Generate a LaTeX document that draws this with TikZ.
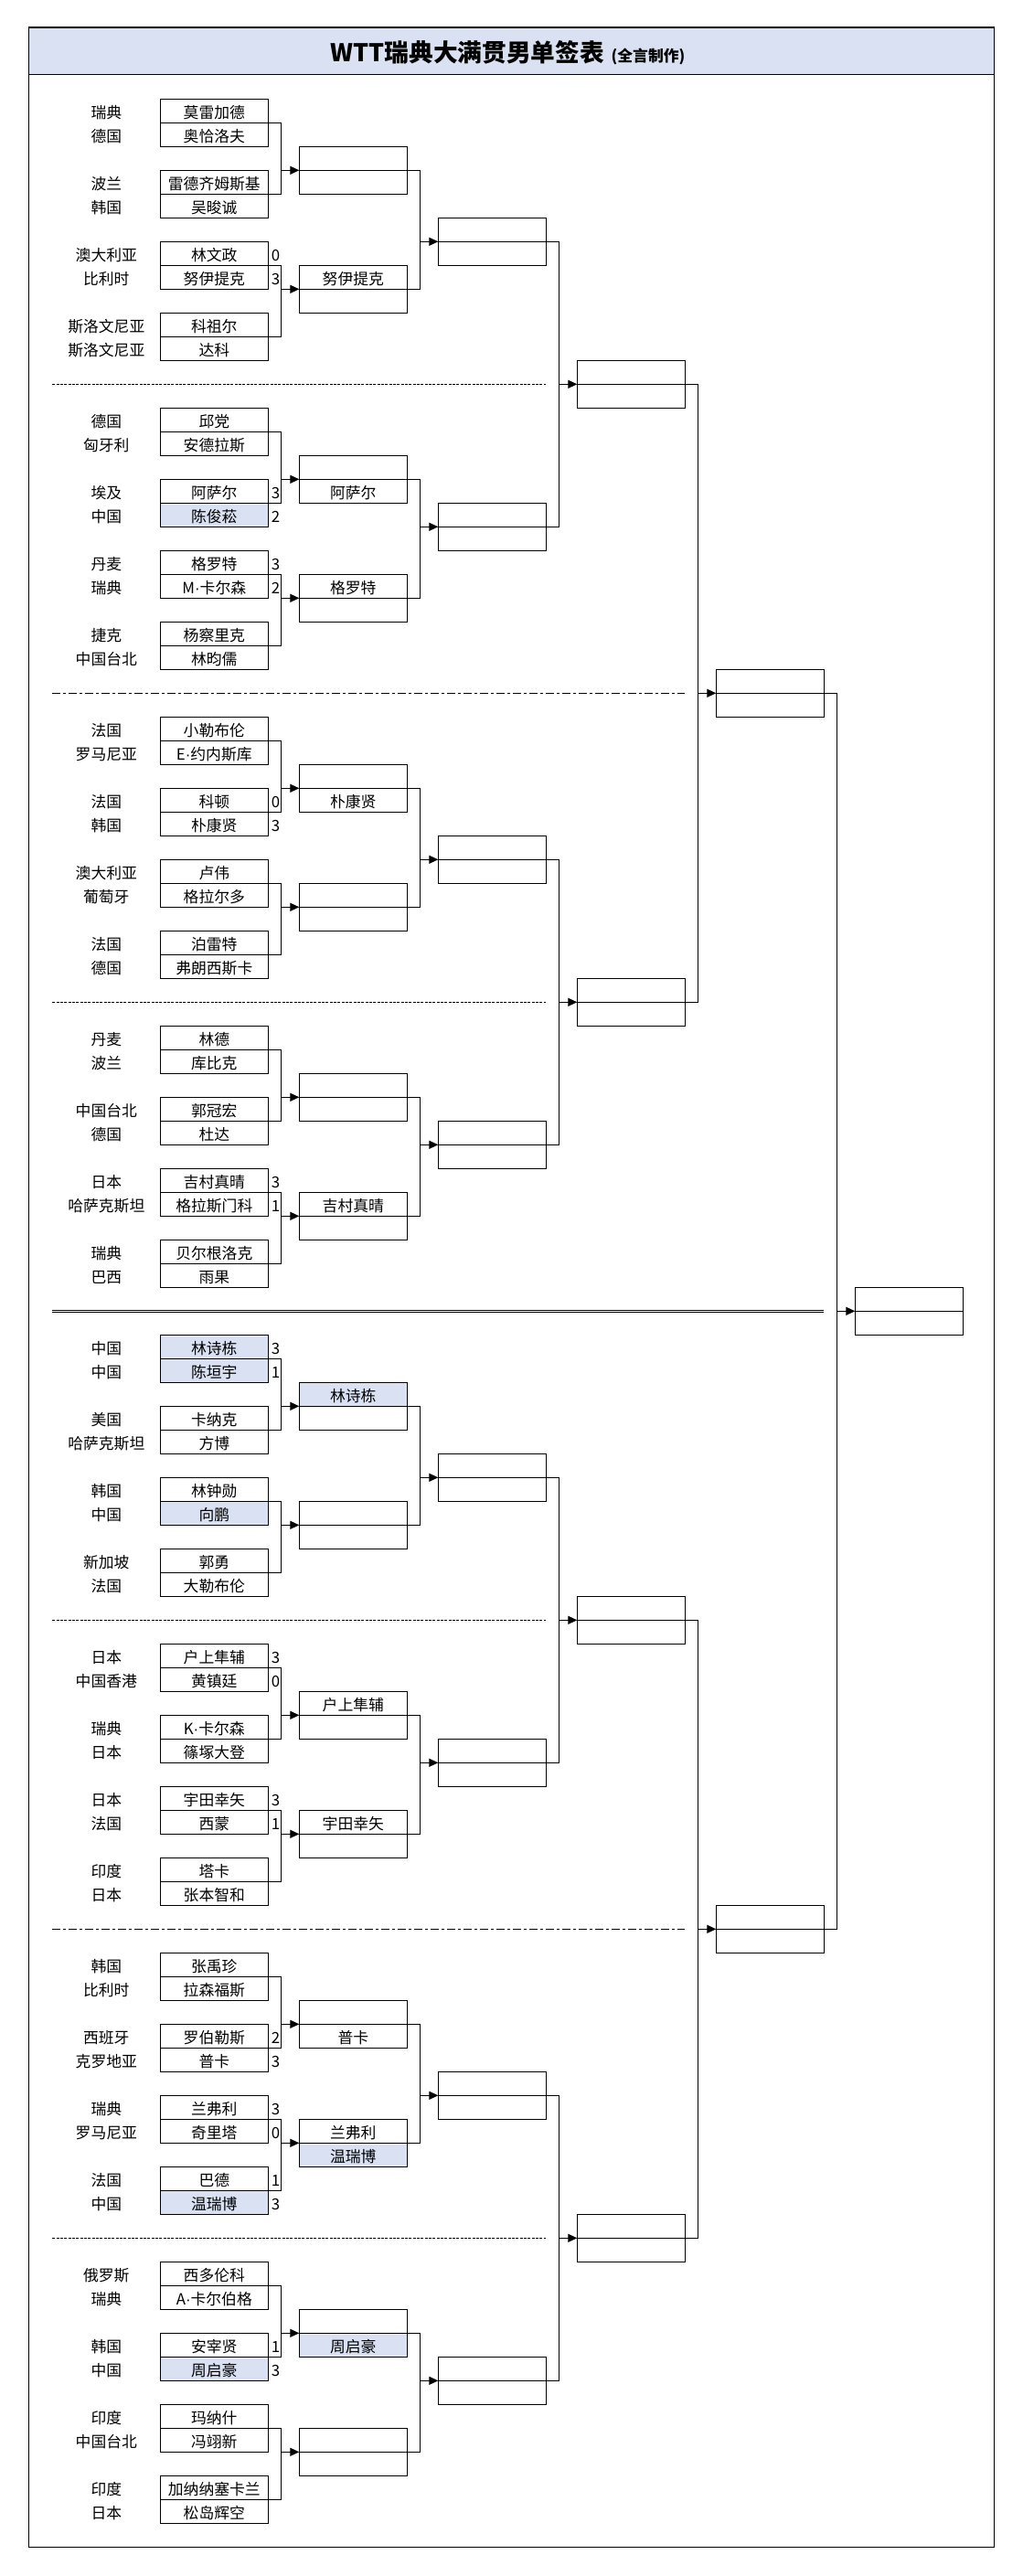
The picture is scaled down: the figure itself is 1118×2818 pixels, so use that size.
\documentclass[tikz,border=0pt]{standalone}
\usepackage{fontspec}
\setmainfont{Noto Sans CJK SC}
\newfontfamily\westfont{Liberation Sans}
\usepackage{xcolor}
\usetikzlibrary{arrows.meta,positioning}
\definecolor{pale}{HTML}{D9E1F2}
\newcommand\namefont{\fontsize{12.6}{15}\selectfont}
\newcommand\rowy[1]{108.3+26*(#1)}
\newcommand\md{{\westfont ·}}
% two stacked cells: name, x, row, top fill, top text, bottom fill, bottom text
\newcommand\duo[7]{%
  \node[cell,fill=#4] (#1) at (#2,{\rowy{#3}}) {#5};
  \node[cell,fill=#6] (#1-lo) at (#2,{\rowy{#3+1}}) {#7};}
% bracket from two boxes to the next one
\newcommand\drawmatch[3]{%
  \draw[link] (#1.south east) -- ++(14,0) |- (#2.south east);
  \draw[link,-{Triangle[length=7.5pt,width=6.8pt]}] (#1.south east) ++(14,0) |- (#3.south west);}

\begin{document}
\begin{tikzpicture}[x=0.75pt,y=-0.75pt,
  txt/.style={inner sep=0pt,outer sep=0pt,text height=12.4pt,text depth=0pt,font=\namefont},
  cell/.style={txt,draw,line width=0.75pt,minimum width=88.5pt,minimum height=19.5pt,anchor=north west},
  link/.style={line width=0.75pt},
  frame/.style={line width=1.05pt},
  sepdash/.style={line width=0.75pt,dash pattern=on 2.25pt off 1pt},
  sepdot/.style={line width=0.75pt,dash pattern=on 6.75pt off 2.25pt on 2.25pt off 2.25pt},
  sepdouble/.style={line width=0.6pt,double,double distance=1.1pt}]
\useasboundingbox (0,0) rectangle (1118,2818);

% title bar and frame
\fill[pale] (31.7,30) rectangle (1087.3,81.7);
\draw[frame] (31.7,81.7) -- (1087.3,81.7);
\draw[frame] (31.7,30) rectangle (1087.3,2786.3);
\node[anchor=base,inner sep=0pt,font=\fontsize{20}{24}\selectfont\bfseries] (title) at (555.5,68)
  {WTT瑞典大满贯男单签表\hspace{6pt}{\namefont(全言制作)}};

% section separators
\foreach \s/\endx/\kind in {0/597.3/sepdash,1/749.3/sepdot,2/597.3/sepdash,3/901.3/sepdouble,
  4/597.3/sepdash,5/749.3/sepdot,6/597.3/sepdash}
  \draw[\kind] (57.3,{\rowy{13*\s+12}}) -- (\endx,{\rowy{13*\s+12}});

% first round
\foreach \s/\k/\ctry/\who/\tone in {
  0/1/瑞典/莫雷加德/white, 0/2/德国/奥恰洛夫/white, 0/3/波兰/雷德齐姆斯基/white, 0/4/韩国/吴晙诚/white,
  0/5/澳大利亚/林文政/white, 0/6/比利时/努伊提克/white, 0/7/斯洛文尼亚/科祖尔/white, 0/8/斯洛文尼亚/达科/white,
  1/1/德国/邱党/white, 1/2/匈牙利/安德拉斯/white, 1/3/埃及/阿萨尔/white, 1/4/中国/陈俊菘/pale,
  1/5/丹麦/格罗特/white, 1/6/瑞典/M\md 卡尔森/white, 1/7/捷克/杨察里克/white, 1/8/中国台北/林昀儒/white,
  2/1/法国/小勒布伦/white, 2/2/罗马尼亚/E\md 约内斯库/white, 2/3/法国/科顿/white, 2/4/韩国/朴康贤/white,
  2/5/澳大利亚/卢伟/white, 2/6/葡萄牙/格拉尔多/white, 2/7/法国/泊雷特/white, 2/8/德国/弗朗西斯卡/white,
  3/1/丹麦/林德/white, 3/2/波兰/库比克/white, 3/3/中国台北/郭冠宏/white, 3/4/德国/杜达/white,
  3/5/日本/吉村真晴/white, 3/6/哈萨克斯坦/格拉斯门科/white, 3/7/瑞典/贝尔根洛克/white, 3/8/巴西/雨果/white,
  4/1/中国/林诗栋/pale, 4/2/中国/陈垣宇/pale, 4/3/美国/卡纳克/white, 4/4/哈萨克斯坦/方博/white,
  4/5/韩国/林钟勋/white, 4/6/中国/向鹏/pale, 4/7/新加坡/郭勇/white, 4/8/法国/大勒布伦/white,
  5/1/日本/户上隼辅/white, 5/2/中国香港/黄镇廷/white, 5/3/瑞典/K\md 卡尔森/white, 5/4/日本/篠塚大登/white,
  5/5/日本/宇田幸矢/white, 5/6/法国/西蒙/white, 5/7/印度/塔卡/white, 5/8/日本/张本智和/white,
  6/1/韩国/张禹珍/white, 6/2/比利时/拉森福斯/white, 6/3/西班牙/罗伯勒斯/white, 6/4/克罗地亚/普卡/white,
  6/5/瑞典/兰弗利/white, 6/6/罗马尼亚/奇里塔/white, 6/7/法国/巴德/white, 6/8/中国/温瑞博/pale,
  7/1/俄罗斯/西多伦科/white, 7/2/瑞典/A\md 卡尔伯格/white, 7/3/韩国/安宰贤/white, 7/4/中国/周启豪/pale,
  7/5/印度/玛纳什/white, 7/6/中国台北/冯翊新/white, 7/7/印度/加纳纳塞卡兰/white, 7/8/日本/松岛辉空/white}
{
  \pgfmathtruncatemacro\rr{13*\s+3*int((\k-1)/2)+mod(\k-1,2)}
  \node[cell,fill=\tone] (pl\s-\k) at (175.3,{\rowy{\rr}}) {\who};
  \node[txt] (ct\s-\k) at (116.3,{\rowy{\rr}+13}) {\ctry};
}

% scores
\foreach \s/\k/\pts in {0/5/0,0/6/3,1/3/3,1/4/2,1/5/3,1/6/2,2/3/0,2/4/3,3/5/3,3/6/1,
  4/1/3,4/2/1,5/1/3,5/2/0,5/5/3,5/6/1,6/3/2,6/4/3,6/5/3,6/6/0,6/7/1,6/8/3,7/3/1,7/4/3}
  \node[txt,right=2.6pt of pl\s-\k] (sc\s-\k) {\pts};

% second round
\foreach \s/\m/\ftop/\ttop/\fbot/\tbot in {
  0/1/white/{}/white/{}, 0/2/white/努伊提克/white/{},
  1/1/white/{}/white/阿萨尔, 1/2/white/格罗特/white/{},
  2/1/white/{}/white/朴康贤, 2/2/white/{}/white/{},
  3/1/white/{}/white/{}, 3/2/white/吉村真晴/white/{},
  4/1/pale/林诗栋/white/{}, 4/2/white/{}/white/{},
  5/1/white/户上隼辅/white/{}, 5/2/white/宇田幸矢/white/{},
  6/1/white/{}/white/普卡, 6/2/white/兰弗利/pale/温瑞博,
  7/1/white/{}/pale/周启豪, 7/2/white/{}/white/{}}
{
  \pgfmathtruncatemacro\rr{13*\s+5*\m-3}
  \duo{q\s\m}{327.3}{\rr}{\ftop}{\ttop}{\fbot}{\tbot}
}

% third round
\foreach \s in {0,...,7} {
  \pgfmathtruncatemacro\rr{13*\s+5-mod(\s,2)}
  \duo{h\s}{479.3}{\rr}{white}{}{white}{}
  \drawmatch{pl\s-1}{pl\s-3}{q\s1}
  \drawmatch{pl\s-5}{pl\s-7}{q\s2}
  \drawmatch{q\s1}{q\s2}{h\s}
}

% quarter finals
\foreach \t in {0,2,4,6} {
  \pgfmathtruncatemacro\u{\t+1}
  \duo{g\t}{631.3}{13*\t+11}{white}{}{white}{}
  \drawmatch{h\t}{h\u}{g\t}
}

% semi finals and final
\duo{semi1}{783.3}{24}{white}{}{white}{}
\duo{semi2}{783.3}{76}{white}{}{white}{}
\drawmatch{g0}{g2}{semi1}
\drawmatch{g4}{g6}{semi2}
\duo{fin}{935.3}{50}{white}{}{white}{}
\drawmatch{semi1}{semi2}{fin}
\end{tikzpicture}
\end{document}
